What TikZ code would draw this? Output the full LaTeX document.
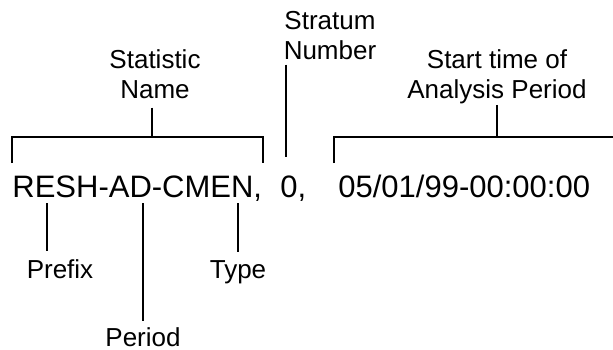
\documentclass[tikz,border=0pt]{standalone}
\usepackage{fontspec}
\setmainfont{Liberation Sans}
\begin{document}
\begin{tikzpicture}[x=1pt,y=-1pt,line width=2.8pt,
  lbl/.style={inner sep=0pt,align=center,font=\fontsize{26}{30}\selectfont},
  code/.style={inner sep=0pt,anchor=base west,font=\fontsize{31}{36}\selectfont}]
\useasboundingbox (0,0) rectangle (613,350);
\node[lbl,anchor=base] (statname) at (155,99) {Statistic\\Name};
\node[lbl,anchor=base] (stratum) at (330,60) {Stratum\\Number};
\node[lbl,anchor=base] (start) at (497,99) {Start time of\\Analysis Period};
\node[code] (name) at (11,197) {RESH-AD-CMEN,};
\node[code] (num) at (279,197) {0,};
\node[code] (date) at (337,197) {05/01/99-00:00:00};
\node[lbl,anchor=base] (prefix) at (60,278) {Prefix};
\node[lbl,anchor=base] (period) at (143,346) {Period};
\node[lbl,anchor=base] (type) at (238,278) {Type};
% brackets above the record
\coordinate (n1) at (12,163);
\coordinate (n2) at (12,137);
\coordinate (n3) at (263,137);
\coordinate (n4) at (263,163);
\coordinate (nmid) at (152,137);
\draw (n1) -- (n2) -- (n3) -- (n4);
\draw[shorten <=7pt] (statname.south -| nmid) -- (nmid);
\coordinate (s2) at (286,157);
\draw[shorten <=3pt] (stratum.south -| s2) -- (s2);
\coordinate (d1) at (334,163);
\coordinate (d2) at (334,137);
\coordinate (d3) at (615,137);
\coordinate (dmid) at (497,137);
\draw (d1) -- (d2) -- (d3);
\draw[shorten <=-1pt] (start.south) -- (dmid);
% stems below the record
\coordinate (p1) at (47,203);
\coordinate (p2) at (143,203);
\coordinate (p3) at (238,203);
\draw[shorten >=7pt] (p1) -- (prefix.north -| p1);
\draw[shorten >=5pt] (p2) -- (period.north);
\draw[shorten >=7pt] (p3) -- (type.north);
\end{tikzpicture}
\end{document}
